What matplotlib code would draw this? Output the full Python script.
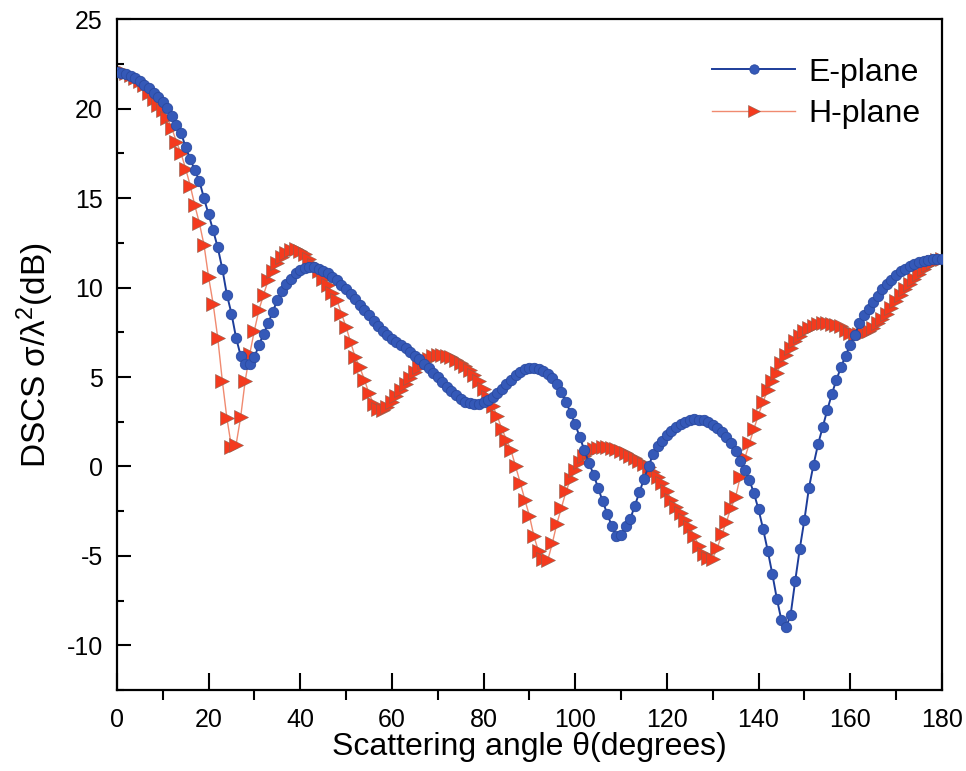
import matplotlib
matplotlib.use('Agg')

import numpy as np
import matplotlib.pyplot as plt
from matplotlib.ticker import MultipleLocator

plt.rcParams['font.family'] = ['Liberation Sans', 'DejaVu Sans']
plt.rcParams['mathtext.default'] = 'regular'
plt.rcParams['axes.unicode_minus'] = False

# Scattering angle, one sample per degree
theta = np.arange(0, 181)

# E-plane DSCS (dB)
e_plane = [
    22.05, 22.0, 21.95, 21.85, 21.7, 21.55, 21.35, 21.15, 20.9, 20.65,
    20.35, 20.05, 19.6, 19.1, 18.65, 17.85, 17.2, 16.55, 15.95, 15.0,
    14.1, 13.2, 12.25, 11.05, 9.6, 8.55, 7.2, 6.2, 5.75, 5.75,
    6.1, 6.8, 7.4, 8.0, 8.65, 9.3, 9.8, 10.2, 10.5, 10.8,
    11.0, 11.1, 11.15, 11.15, 11.05, 10.95, 10.8, 10.6, 10.4, 10.15,
    9.9, 9.65, 9.35, 9.05, 8.75, 8.45, 8.15, 7.85, 7.6, 7.35,
    7.15, 6.98, 6.8, 6.6, 6.4, 6.2, 5.98, 5.75, 5.5, 5.25,
    4.98, 4.7, 4.45, 4.2, 3.98, 3.78, 3.62, 3.52, 3.48, 3.5,
    3.58, 3.7, 3.88, 4.1, 4.35, 4.6, 4.85, 5.1, 5.3, 5.43,
    5.5, 5.53, 5.45, 5.32, 5.15, 4.92, 4.6, 4.15, 3.6, 3.0,
    2.35, 1.65, 0.9, 0.2, -0.45, -1.2, -1.95, -2.65, -3.35, -3.9,
    -3.85, -3.35, -2.95, -2.2, -1.45, -0.7, 0.0, 0.7, 1.15, 1.45,
    1.78, 2.0, 2.2, 2.38, 2.5, 2.6, 2.63, 2.62, 2.57, 2.48,
    2.32, 2.15, 1.9, 1.65, 1.3, 0.85, 0.3, -0.2, -0.75, -1.5,
    -2.4, -3.5, -4.7, -6.0, -7.4, -8.6, -9.0, -8.3, -6.4, -4.6,
    -3.0, -1.2, 0.1, 1.25, 2.2, 3.15, 4.05, 4.85, 5.55, 6.2,
    6.8, 7.35, 8.0, 8.45, 8.8, 9.2, 9.55, 9.9, 10.2, 10.45,
    10.7, 10.9, 11.05, 11.2, 11.32, 11.42, 11.5, 11.55, 11.58, 11.6,
    11.6,
]

# H-plane DSCS (dB)
h_plane = [
    22.15, 22.1, 22.0, 21.9, 21.7, 21.55, 21.3, 20.9, 20.55, 20.2,
    19.95, 19.5, 18.9, 18.15, 17.5, 16.65, 15.7, 14.6, 13.6, 12.4,
    10.6, 9.1, 7.2, 4.8, 2.7, 1.1, 1.2, 2.75, 4.8, 6.3,
    7.6, 8.75, 9.6, 10.4, 10.9, 11.35, 11.7, 11.95, 12.1, 12.15,
    12.05, 11.85, 11.6, 11.25, 10.9, 10.5, 10.15, 9.7, 9.3, 8.55,
    7.8, 6.95, 6.1, 5.55, 4.85, 4.1, 3.5, 3.2, 3.18, 3.3,
    3.6, 3.95, 4.3, 4.62, 4.95, 5.28, 5.58, 5.82, 6.0, 6.15,
    6.22, 6.25, 6.2, 6.1, 5.97, 5.8, 5.6, 5.4, 5.1, 4.8,
    4.35, 3.9, 3.4, 2.8, 2.1, 1.5, 0.9, 0.0, -0.9, -1.85,
    -2.75, -3.9, -4.75, -5.2, -5.25, -4.3, -3.2, -2.3, -1.4, -0.7,
    -0.2, 0.25, 0.6, 0.82, 0.95, 1.05, 1.1, 1.1, 1.05, 0.98,
    0.88, 0.75, 0.6, 0.45, 0.3, 0.12, -0.05, -0.3, -0.6, -0.95,
    -1.4, -1.85, -2.25, -2.6, -3.0, -3.4, -3.9, -4.45, -4.9, -5.1,
    -5.15, -4.55, -3.8, -3.1, -2.3, -1.7, -0.6, 0.45, 1.3, 2.1,
    2.9, 3.63, 4.25, 4.8, 5.25, 5.8, 6.25, 6.65, 7.0, 7.3,
    7.55, 7.75, 7.88, 7.95, 8.0, 8.0, 7.98, 7.92, 7.83, 7.65,
    7.48, 7.38, 7.4, 7.48, 7.6, 7.74, 8.0, 8.25, 8.55, 8.86,
    9.25, 9.6, 9.9, 10.2, 10.5, 10.78, 11.05, 11.25, 11.42, 11.52,
    11.58,
]

fig = plt.figure(figsize=(9.66, 7.71), dpi=100)
ax = fig.add_axes([0.121, 0.105, 0.854, 0.87])

ax.plot(theta, e_plane, color='#1d3d9a', linewidth=1.4,
        marker='o', markersize=7.5, markerfacecolor='#3559b8',
        markeredgecolor='#2a4aa0', markeredgewidth=0.6,
        label='E-plane', zorder=3)
ax.plot(theta, h_plane, color='#f08a70', linewidth=1.0,
        marker='>', markersize=9.5, markerfacecolor='#f43a1e',
        markeredgecolor='#8a6050', markeredgewidth=0.4,
        label='H-plane', zorder=2)

ax.set_xlim(0, 180)
ax.set_ylim(-12.5, 25)

ax.xaxis.set_major_locator(MultipleLocator(20))
ax.xaxis.set_minor_locator(MultipleLocator(10))
ax.yaxis.set_major_locator(MultipleLocator(5))
ax.yaxis.set_minor_locator(MultipleLocator(2.5))

ax.tick_params(axis='x', which='major', direction='in', length=12, width=1.5,
               labelsize=18, pad=13)
ax.tick_params(axis='x', which='minor', direction='out', length=7, width=1.5)
ax.tick_params(axis='y', which='major', direction='in', length=10, width=1.5,
               labelsize=18, pad=10)
ax.tick_params(axis='y', which='minor', direction='in', length=5, width=1.5)
ax.tick_params(top=False, right=False, which='both')

for a in ["bottom", "top", "right", "left"]:
    ax.spines[a].set_linewidth(1.6)

ax.set_xlabel('Scattering angle θ(degrees)', fontsize=23, labelpad=0)
ax.set_ylabel('DSCS σ/λ$^2$(dB)', fontsize=24, labelpad=8)

ax.legend(loc='upper right', bbox_to_anchor=(1.02, 1.0), frameon=False,
          fontsize=23, handlelength=2.6, handletextpad=0.4,
          labelspacing=0.35, borderaxespad=0.4, borderpad=0.8,
          markerscale=0.9)

fig.savefig('out.png', dpi=100)
